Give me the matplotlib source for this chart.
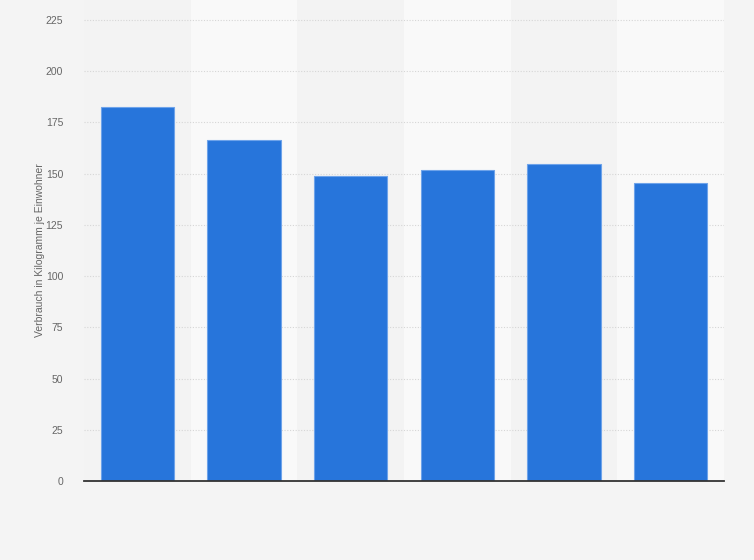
"""Pro-Kopf-Verbrauch, Säulendiagramm"""
import numpy as np
import matplotlib.pyplot as plt

plt.rcParams['font.family'] = ['Liberation Sans', 'DejaVu Sans']

# Werte
categories = ['1', '2', '3', '4', '5', '6']
values = [182.3, 166.3, 148.7, 151.7, 154.6, 145.3]
y_ticks = [0, 25, 50, 75, 100, 125, 150, 175, 200, 225]
y_label = 'Verbrauch in Kilogramm je Einwohner'

W, H = 754, 560
fig = plt.figure(figsize=(W / 100, H / 100), dpi=100, facecolor='#f4f4f4')
# Achsen von x=84..724, y=0..481 (Pixel)
ax = fig.add_axes([84 / W, (H - 481) / H, 640 / W, 481 / H])
ax.set_facecolor('#f3f3f3')

x = np.arange(len(categories))
for i in x:
    if i % 2 == 1:
        ax.axvspan(i - 0.5, i + 0.5, color='#f9f9f9', zorder=0, lw=0)

ax.bar(x, values, width=0.685, color='#2775db', edgecolor='#6ea3ea',
       linewidth=0.8, zorder=3)

ax.set_xlim(-0.5, len(categories) - 0.5)
ax.set_ylim(0, 481 / (461 / 225))
ax.set_yticks(y_ticks)
ax.set_xticks([])
ax.tick_params(axis='y', length=0, pad=15, labelsize=7.5, labelcolor='#666666')
for t in y_ticks[1:]:
    ax.axhline(t, color='#d6d6d6', lw=0.8, ls=(0, (1, 1.5)), zorder=1)

for s in ['top', 'right', 'left']:
    ax.spines[s].set_visible(False)
ax.spines['bottom'].set_color('#333333')
ax.spines['bottom'].set_linewidth(1.3)
ax.spines['bottom'].set_zorder(4)

fig.text(40 / W, 1 - 250 / H, y_label, rotation=90, ha='center', va='center',
         fontsize=7.5, color='#666666')

plt.savefig('out.png', dpi=100, facecolor=fig.get_facecolor())
